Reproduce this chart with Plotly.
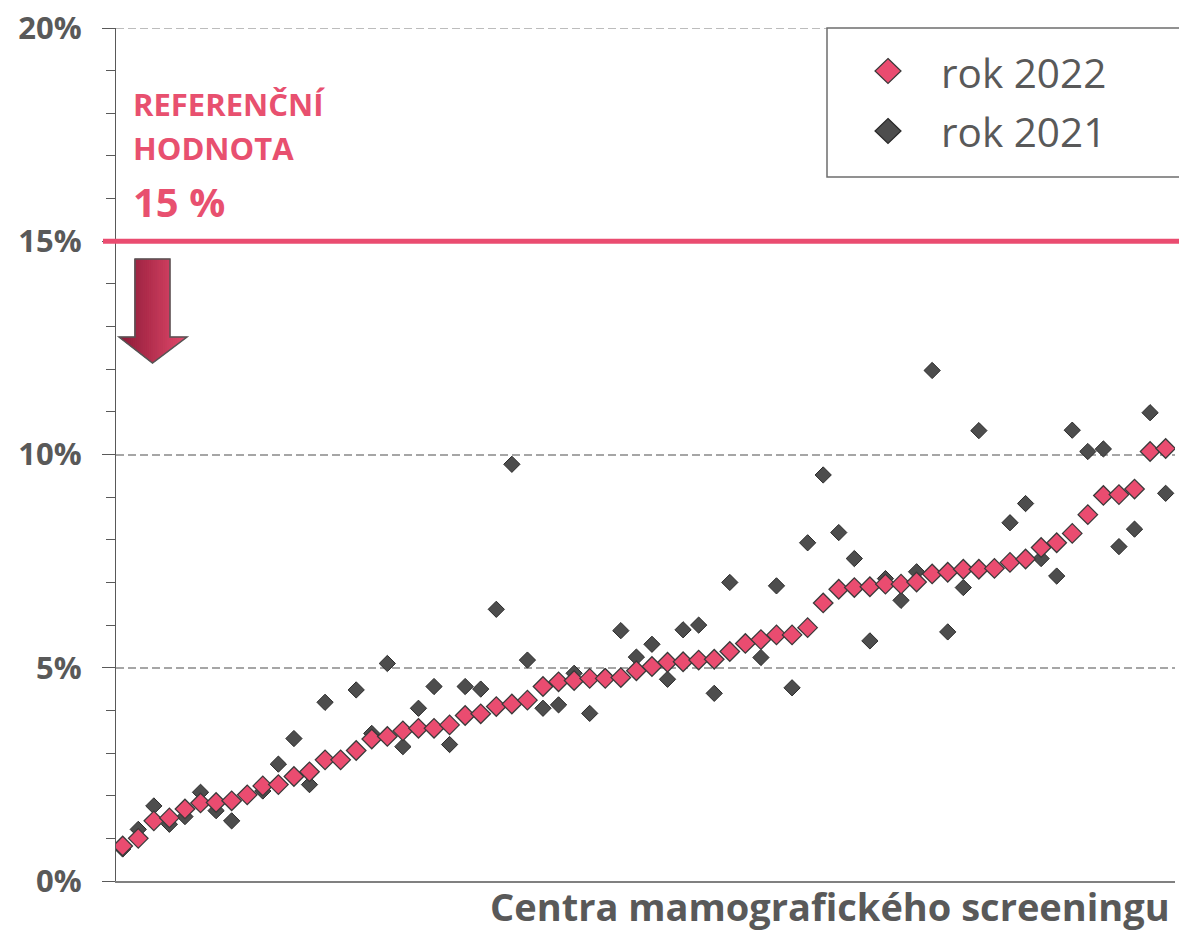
import plotly.graph_objects as go

# ---------------- data ----------------
centres = list(range(1, 69))
rok_2022 = [0.82, 1.00, 1.41, 1.48, 1.69, 1.83, 1.84, 1.88, 2.02, 2.23,
            2.26, 2.45, 2.56, 2.84, 2.84, 3.06, 3.33, 3.39, 3.52, 3.58,
            3.58, 3.66, 3.88, 3.92, 4.09, 4.15, 4.24, 4.56, 4.67, 4.70,
            4.75, 4.75, 4.77, 4.93, 5.03, 5.13, 5.14, 5.18, 5.20, 5.38,
            5.57, 5.66, 5.77, 5.77, 5.94, 6.52, 6.84, 6.88, 6.90, 6.96,
            6.96, 7.01, 7.20, 7.24, 7.31, 7.31, 7.33, 7.47, 7.55, 7.82,
            7.93, 8.15, 8.59, 9.04, 9.06, 9.19, 10.07, 10.14]
rok_2021 = [0.75, 1.21, 1.76, 1.33, 1.51, 2.08, 1.65, 1.41, 2.00, 2.11,
            2.74, 3.34, 2.26, 4.19, 2.85, 4.48, 3.46, 5.10, 3.15, 4.05,
            4.56, 3.20, 4.56, 4.50, 6.37, 9.77, 5.18, 4.05, 4.13, 4.87,
            3.93, 4.80, 5.87, 5.25, 5.55, 4.73, 5.89, 6.00, 4.40, 7.00,
            5.55, 5.24, 6.92, 4.53, 7.93, 9.52, 8.17, 7.56, 5.63, 7.09,
            6.58, 7.25, 11.97, 5.84, 6.88, 10.56, 7.35, 8.40, 8.85, 7.56,
            7.15, 10.57, 10.07, 10.13, 7.84, 8.25, 10.98, 9.09]
y_tick_values = [0, 5, 10, 15, 20]
y_tick_labels = ["0%", "5%", "10%", "15%", "20%"]
y_max = 20
reference_value = 15
series_names = ["rok 2022", "rok 2021"]
x_title = "Centra mamografického screeningu"
ref_lines = ["REFERENČNÍ", "HODNOTA", "15 %"]

# ---------------- layout helpers ----------------
W, H = 1179, 933
L, R, T, B = 116, 4, 28, 52
PW, PH = W - L - R, H - T - B

def px(x):
    return (x - L) / PW

def py(y):
    return (H - B - y) / PH

PINK = "#EA4C70"
PINK_TXT = "#E8506F"
DARK = "#4D4D4D"
GREY_TXT = "#595959"
GRID = "#A6A6A6"

fig = go.Figure()
fig.add_trace(go.Scatter(
    x=centres, y=rok_2021, mode="markers", name=series_names[1],
    marker=dict(symbol="diamond", size=12.5, color=DARK,
                line=dict(color="#2a2a2a", width=1)),
    showlegend=False, hoverinfo="skip"))
fig.add_trace(go.Scatter(
    x=centres, y=rok_2022, mode="markers", name=series_names[0],
    marker=dict(symbol="diamond", size=15, color=PINK,
                line=dict(color="#3a3a3a", width=1.3)),
    showlegend=False, hoverinfo="skip"))

shapes = []
# top gridline (at the axis range edge)
shapes.append(dict(type="line", xref="paper", yref="y", x0=0, x1=1, y0=y_max, y1=y_max,
                   line=dict(color=GRID, width=1.5, dash="8px,4px"), layer="below"))
# reference line
shapes.append(dict(type="line", xref="paper", yref="y",
                   x0=px(103), x1=px(1185), y0=reference_value, y1=reference_value,
                   line=dict(color=PINK, width=5), layer="above"))

# gradient arrow built from vertical strips
arrow = [(135, 259), (170, 259), (170, 337), (187, 337), (152.5, 363), (119, 337), (135, 337)]

def clip_edge(poly, inside, inter):
    out = []
    n = len(poly)
    for i in range(n):
        cur, prev = poly[i], poly[i - 1]
        if inside(cur):
            if not inside(prev):
                out.append(inter(prev, cur))
            out.append(cur)
        elif inside(prev):
            out.append(inter(prev, cur))
    return out

def ix(xc):
    def f(p, q):
        t = (xc - p[0]) / (q[0] - p[0])
        return (xc, p[1] + t * (q[1] - p[1]))
    return f

def clip(poly, xa, xb):
    p = clip_edge(poly, lambda v: v[0] >= xa, ix(xa))
    if not p:
        return p
    return clip_edge(p, lambda v: v[0] <= xb, ix(xb))

def to_path(poly):
    return "M " + " L ".join(f"{px(x):.5f},{py(y):.5f}" for x, y in poly) + " Z"

c0 = (0x8B, 0x1A, 0x36)
c1 = (0xE4, 0x4A, 0x6D)
x_start, x_end, step = 119, 187, 2
xs = x_start
while xs < x_end:
    xe = min(xs + step, x_end)
    poly = clip(arrow, xs, xe)
    if len(poly) >= 3:
        t = ((xs + xe) / 2 - x_start) / (x_end - x_start)
        col = "#%02x%02x%02x" % tuple(int(round(a + (b - a) * t)) for a, b in zip(c0, c1))
        shapes.append(dict(type="path", xref="paper", yref="paper", path=to_path(poly),
                           fillcolor=col, line=dict(color=col, width=0.6), layer="above"))
    xs = xe
shapes.append(dict(type="path", xref="paper", yref="paper", path=to_path(arrow),
                   fillcolor="rgba(0,0,0,0)", line=dict(color="#555555", width=1.5), layer="above"))

# legend box
shapes.append(dict(type="rect", xref="paper", yref="paper",
                   x0=px(827), x1=px(1190), y0=py(177), y1=py(28),
                   fillcolor="white", line=dict(color="#6e6e6e", width=1.5), layer="above"))
# legend diamonds
for cy, fc, lc in [(71, PINK, "#3a3a3a"), (131, DARK, "#2a2a2a")]:
    d = [(888, cy - 12.5), (901, cy), (888, cy + 12.5), (875, cy)]
    shapes.append(dict(type="path", xref="paper", yref="paper", path=to_path(d),
                       fillcolor=fc, line=dict(color=lc, width=1.2), layer="above"))

annotations = []
def ann(text, x, y, size, color, weight="normal", xanchor="left"):
    annotations.append(dict(text=text, xref="paper", yref="paper", x=px(x), y=py(y),
                            xanchor=xanchor, yanchor="middle", showarrow=False,
                            font=dict(family="Open Sans", size=size, color=color, weight=weight)))

ann(ref_lines[0], 131, 104, 31, PINK_TXT, "bold")
ann(ref_lines[1], 131, 147.5, 31, PINK_TXT, "bold")
ann(ref_lines[2], 131, 201, 40, PINK_TXT, "bold")
ann(series_names[0], 939, 72.5, 40.5, GREY_TXT)
ann(series_names[1], 939, 131.5, 40.5, GREY_TXT)
ann(x_title, 1172, 906, 38, GREY_TXT, "bold", xanchor="right")

fig.update_layout(
    width=W, height=H,
    margin=dict(l=L, r=R, t=T, b=B, pad=0),
    paper_bgcolor="white", plot_bgcolor="white",
    showlegend=False,
    shapes=shapes, annotations=annotations,
    xaxis=dict(range=[centres[0] - 0.43, centres[-1] + 0.6], showline=True,
               linecolor="#808080", linewidth=1.5, showgrid=False, zeroline=False,
               ticks="", showticklabels=False, automargin=False, fixedrange=True),
    yaxis=dict(range=[0, y_max], tickvals=y_tick_values, ticktext=y_tick_labels,
               showline=True, linecolor=GREY_TXT, linewidth=1.3,
               ticks="outside", ticklen=13, tickwidth=1.3, tickcolor=GREY_TXT,
               minor=dict(dtick=1, ticks="outside", ticklen=9, tickwidth=1.2,
                          tickcolor=GREY_TXT, showgrid=False),
               showgrid=True, gridcolor=GRID, gridwidth=1.5, griddash="8px,4px",
               zeroline=False, ticklabelstandoff=14,
               tickfont=dict(family="Open Sans", size=31, color=GREY_TXT, weight="bold"),
               automargin=False, fixedrange=True),
)

fig.write_html("out.html", config={"displayModeBar": False},
               post_script="document.body.style.margin='0';")
